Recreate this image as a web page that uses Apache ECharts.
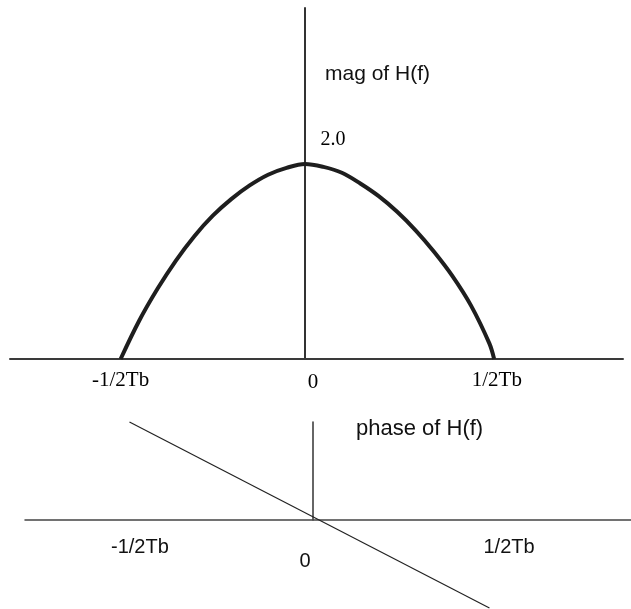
<!DOCTYPE html>
<html>
<head>
<meta charset="utf-8">
<script src="https://cdn.jsdelivr.net/npm/echarts@6/dist/echarts.min.js"></script>
<style>
	html, body { margin: 0; padding: 0; background: #fff; }
	#chart { width: 631px; height: 609px; }
</style>
</head>
<body>
<div id="chart"></div>
<script>
// frequency in units of 1/Tb
const magFreq = [-0.5, -0.45, -0.4, -0.35, -0.3, -0.25, -0.2, -0.15, -0.1, -0.05, 0,
	0.05, 0.1, 0.15, 0.2, 0.25, 0.3, 0.35, 0.4, 0.45, 0.5, 0.513];
const magValue = [0, 0.39, 0.72, 1.01, 1.26, 1.47, 1.64, 1.78, 1.89, 1.96, 2.0,
	1.97, 1.91, 1.8, 1.67, 1.51, 1.32, 1.1, 0.85, 0.55, 0.16, 0];
const peakLabel = '2.0';

const phaseFreq = [-0.497, 0.478];
const phaseValue = [1.0, -0.898];

const tickValues = [-0.5, 0, 0.5];
const tickLabels = ['-1/2Tb', '0', '1/2Tb'];

const magTitle = 'mag of H(f)';
const phaseTitle = 'phase of H(f)';

const chart = echarts.init(document.getElementById('chart'));

// 把两组数组拼成坐标点
const pairs = (xs, ys) => xs.map((x, i) => [x, ys[i]]);
const labelFor = v => tickLabels[tickValues.indexOf(v)];
const richKey = v => (v < 0 ? 'a' : v === 0 ? 'b' : 'c');

const option = {
	animation: false,
	backgroundColor: '#fff',
	title: [
		{ text: magTitle, left: 325, top: 64, padding: 0,
			textStyle: { fontFamily: 'Liberation Sans', fontSize: 21, fontWeight: 'normal', color: '#111' } },
		{ text: phaseTitle, left: 356, top: 418, padding: 0,
			textStyle: { fontFamily: 'Liberation Sans', fontSize: 22, fontWeight: 'normal', color: '#111' } }
	],
	grid: [
		{ left: 10, right: 8, top: 8, bottom: 250 },
		{ left: 25, right: 0, top: 422, bottom: 89 }
	],
	xAxis: [
		{
			gridIndex: 0, type: 'value', min: -0.8, max: 0.8625,
			axisLine: { lineStyle: { color: '#3a3a3a', width: 2 } },
			axisTick: { show: false },
			splitLine: { show: false },
			axisLabel: {
				customValues: tickValues,
				margin: 11,
				formatter: v => '{' + richKey(v) + '|' + labelFor(v) + '}',
				rich: {
					a: { fontFamily: 'Liberation Serif', fontSize: 21, color: '#000' },
					b: { fontFamily: 'Liberation Serif', fontSize: 21, color: '#000', padding: [2, 0, 0, 16] },
					c: { fontFamily: 'Liberation Serif', fontSize: 21, color: '#000', padding: [0, 0, 0, 15] }
				}
			}
		},
		{
			gridIndex: 1, type: 'value', min: -0.78, max: 0.8614,
			axisLine: { lineStyle: { color: '#444', width: 1.5 } },
			axisTick: { show: false },
			splitLine: { show: false },
			axisLabel: {
				customValues: tickValues,
				margin: 17,
				formatter: v => '{' + richKey(v) + '|' + labelFor(v) + '}',
				rich: {
					a: { fontFamily: 'Liberation Sans', fontSize: 20, color: '#111', padding: [0, 0, 0, 23] },
					b: { fontFamily: 'Liberation Sans', fontSize: 20, color: '#111', padding: [14, 16, 0, 0] },
					c: { fontFamily: 'Liberation Sans', fontSize: 20, color: '#111', padding: [0, 0, 0, 23] }
				}
			}
		}
	],
	yAxis: [
		{
			gridIndex: 0, type: 'value', min: 0, max: 3.6,
			axisLine: { show: true, onZero: true, lineStyle: { color: '#333', width: 2 } },
			axisTick: { show: false }, axisLabel: { show: false }, splitLine: { show: false }
		},
		{
			gridIndex: 1, type: 'value', min: 0, max: 1,
			axisLine: { show: true, onZero: true, lineStyle: { color: '#333', width: 1.5 } },
			axisTick: { show: false }, axisLabel: { show: false }, splitLine: { show: false }
		}
	],
	series: [
		{
			type: 'line', xAxisIndex: 0, yAxisIndex: 0,
			data: pairs(magFreq, magValue),
			smooth: 0.35, showSymbol: false,
			lineStyle: { color: '#1e1e1e', width: 4 },
			markPoint: {
				symbol: 'circle', symbolSize: 0,
				data: [{ coord: [0, 2.0] }],
				label: {
					show: true, formatter: peakLabel, offset: [28, -24],
					fontFamily: 'Liberation Serif', fontSize: 20, color: '#000'
				}
			}
		},
		{
			type: 'line', xAxisIndex: 1, yAxisIndex: 1,
			data: pairs(phaseFreq, phaseValue),
			clip: false, showSymbol: false,
			lineStyle: { color: '#222', width: 1.2 }
		}
	]
};

chart.setOption(option);
</script>
</body>
</html>
